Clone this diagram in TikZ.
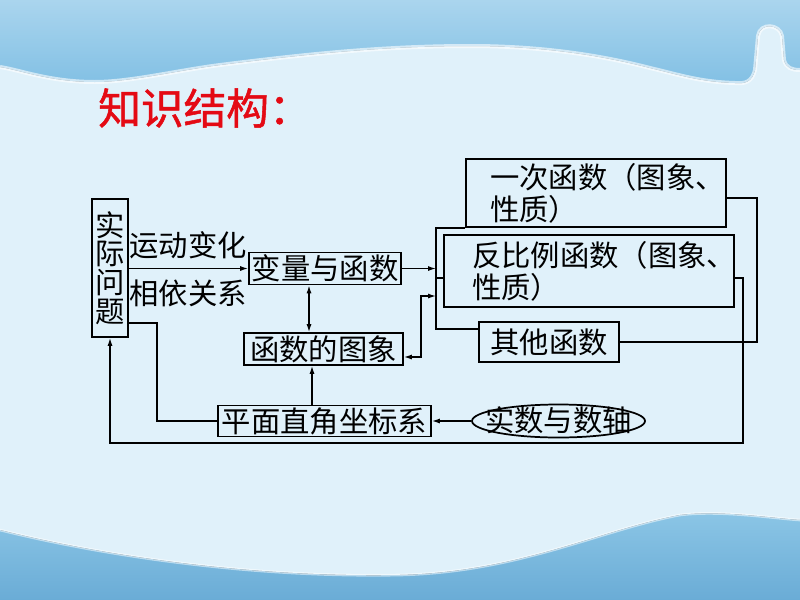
\documentclass[tikz,border=0pt]{standalone}
\usepackage{fontspec}
\newfontfamily\cjk{Noto Sans CJK SC}
\newfontfamily\cjkb{Noto Sans CJK SC}[FakeBold=1.2]
\usetikzlibrary{shapes.geometric,arrows.meta}
\definecolor{bgmain}{RGB}{224,241,250}
\definecolor{bandtop}{RGB}{170,213,238}
\definecolor{bandbot}{RGB}{130,192,228}
\definecolor{lowtop}{RGB}{140,198,230}
\definecolor{lowbot}{RGB}{106,172,214}
\definecolor{titlered}{RGB}{228,10,20}
\tikzset{
  box/.style={draw=black, line width=1.3pt, rectangle, inner sep=1pt,
    font=\cjk\fontsize{22pt}{24pt}\selectfont},
  twoline/.style={box, align=left, font=\cjk\fontsize{22pt}{24pt}\selectfont},
  lab/.style={inner sep=0pt, font=\cjk\fontsize{22pt}{24pt}\selectfont},
  conn/.style={draw=black, line width=1pt},
  arr/.style={conn, -{Latex[length=6pt,width=3.8pt]}},
  dblarr/.style={conn, {Latex[length=6pt,width=3.8pt]}-{Latex[length=6pt,width=3.8pt]}},
}
\def\topedge{(800,70) .. controls (792,70) and (786,68) .. (784,60) -- (782,36)
  .. controls (780,24) and (760,22) .. (758,36) -- (755,70)
  .. controls (752,82) and (745,84) .. (735,83)
  .. controls (700,82) and (680,75) .. (650,68)
  .. controls (600,55) and (540,46) .. (470,46)
  .. controls (380,46) and (300,55) .. (220,65)
  .. controls (180,70) and (130,82) .. (95,82)
  .. controls (50,82) and (20,70) .. (0,67)}
\def\lowedge{(0,530) .. controls (100,555) and (250,578) .. (400,575)
  .. controls (520,572) and (600,530) .. (680,515)
  .. controls (720,510) and (770,518) .. (800,520)}
\begin{document}
\begin{tikzpicture}[x=0.75pt,y=-0.75pt]
\useasboundingbox (0,0) rectangle (800,600);
% background
\fill[bgmain] (0,0) rectangle (800,600);
\fill[top color=bandtop, bottom color=bandbot] (0,0) -- (800,0) -- \topedge -- cycle;
\draw[white, line width=3pt, opacity=0.6] \topedge;
\fill[top color=lowtop, bottom color=lowbot] \lowedge -- (800,600) -- (0,600) -- cycle;
\draw[white, line width=2pt, opacity=0.5] \lowedge;
% title
\node[anchor=west, inner sep=0pt, text=titlered, font=\cjkb\fontsize{32pt}{34pt}\selectfont] (title) at (98,108) {知识结构：};
% nodes
\node[box, align=center, minimum width=27pt, minimum height=103.5pt,
  font=\cjk\fontsize{22pt}{21.5pt}\selectfont] (shiji) at (110,268) {实\\际\\问\\题};
\node[box, minimum width=114pt, minimum height=24pt] (bianliang) at (325,268.5) {变量与函数};
\node[box, minimum width=119.25pt, minimum height=24pt] (tuxiang) at (323.5,349) {函数的图象};
\node[box, minimum width=159.75pt, minimum height=23.25pt] (pingmian) at (324.5,421) {平面直角坐标系};
\node[twoline, text width=159pt, inner xsep=18pt, minimum height=51pt] (yici) at (596,193) {一次函数（图象、\\性质）};
\node[twoline, text width=175.5pt, inner xsep=21pt, minimum height=54pt] (fanbili) at (589,271) {反比例函数（图象、\\性质）};
\node[box, minimum width=105pt, minimum height=30pt] (qita) at (549,342) {其他函数};
\node[box, ellipse, inner sep=0pt, minimum width=129.75pt, minimum height=24.75pt] (shishu) at (558.5,421)
  {\makebox[0pt]{\raisebox{-0.36em}[0pt][0pt]{实数与数轴}}};
\node[lab] (lab1) at (188,245) {运动变化};
\node[lab] (lab2) at (188,293) {相依关系};
% helper coordinates
\coordinate (cA) at (157,323);
\coordinate (cB) at (743,443);
\coordinate (cC) at (757,198);
\coordinate (bm) at (436,278);
\coordinate (bb) at (436,329);
\coordinate (bk) at (436,269);
\coordinate (dj) at (421,296);
\coordinate (dk) at (436,296);
\coordinate (vx1) at (309,0);
\coordinate (vx2) at (312,0);
% connectors
\draw[arr] (shiji.east |- bianliang.west) -- (bianliang.west);
\draw[dblarr] (bianliang.south -| vx1) -- (tuxiang.north -| vx1);
\draw[arr] (pingmian.north -| vx2) -- (tuxiang.south -| vx2);
\draw[conn] (shiji.east |- cA) -- (cA) |- (pingmian.west);
\draw[arr] (fanbili.east |- bm) -| (cB) -| (shiji.south);
\draw[conn] (yici.east |- cC) -- (cC) |- (qita.east);
\draw[conn] (yici.south west) -| (bb) -- (qita.west |- bb);
\draw[conn] (bm) -- (fanbili.west |- bm);
\draw[arr] (bianliang.east) -- (bianliang.east -| bk);
\draw[dblarr] ([yshift=-6pt]tuxiang.east) -| (dj) -- (dk);
\draw[arr] (shishu.west) -- (pingmian.east);
\end{tikzpicture}
\end{document}
